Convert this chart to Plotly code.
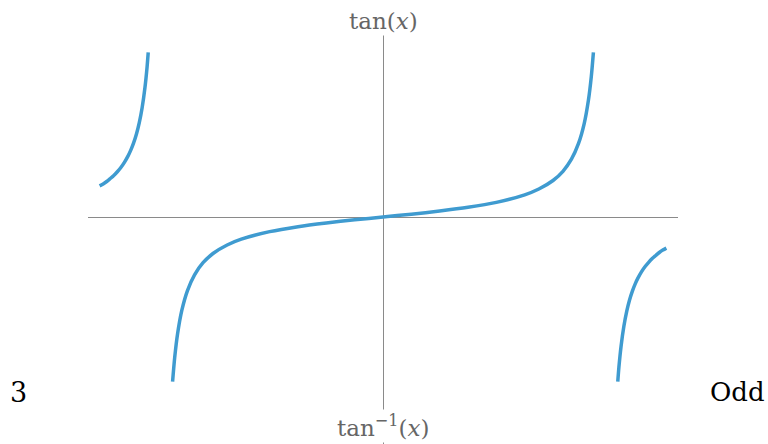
import plotly.graph_objects as go

# Readings of the tan(x) curve (x in radians), three branches
left_x = [-2.0, -1.975, -1.95, -1.925, -1.9, -1.875, -1.85, -1.825, -1.8, -1.78, -1.76, -1.74, -1.72, -1.70, -1.68, -1.665, -1.657]
left_y = [2.19, 2.33, 2.50, 2.71, 2.93, 3.19, 3.49, 3.85, 4.29, 4.71, 5.22, 5.85, 6.65, 7.70, 9.12, 10.58, 11.6]

mid_x = [-1.485, -1.47, -1.45, -1.42, -1.38, -1.33, -1.27, -1.2, -1.1, -1.0, -0.8, -0.6, -0.4, -0.2, 0.0,
         0.2, 0.4, 0.6, 0.8, 1.0, 1.1, 1.2, 1.27, 1.33, 1.38, 1.42, 1.45, 1.47, 1.485]
mid_y = [-11.6, -9.89, -8.24, -6.58, -5.18, -4.07, -3.22, -2.57, -1.97, -1.56, -1.03, -0.68, -0.42, -0.20, 0.0,
         0.20, 0.42, 0.68, 1.03, 1.56, 1.97, 2.57, 3.22, 4.07, 5.18, 6.58, 8.24, 9.89, 11.6]

right_x = [1.657, 1.665, 1.68, 1.70, 1.72, 1.74, 1.76, 1.78, 1.8, 1.825, 1.85, 1.875, 1.9, 1.925, 1.95, 1.975, 2.0]
right_y = [-11.6, -10.58, -9.12, -7.70, -6.65, -5.85, -5.22, -4.71, -4.29, -3.85, -3.49, -3.19, -2.93, -2.71, -2.50, -2.33, -2.19]

top_label = "tan(<i>x</i>)"
bottom_label = "tan<sup>−1</sup>(<i>x</i>)"
corner_left = "3"
corner_right = "Odd"

color = "#3f9bd0"
fig = go.Figure()
for xs, ys in [(left_x, left_y), (mid_x, mid_y), (right_x, right_y)]:
    fig.add_trace(go.Scatter(x=xs, y=ys, mode="lines",
                             line=dict(color=color, width=3.5, shape="spline", smoothing=0.8),
                             showlegend=False, hoverinfo="skip"))

fig.update_layout(
    width=768, height=444,
    margin=dict(l=88, r=90, t=35, b=0),
    paper_bgcolor="white", plot_bgcolor="white",
    xaxis=dict(range=[-2.082, 2.082], showgrid=False, showticklabels=False, ticks="",
               zeroline=True, zerolinecolor="#8a8a8a", zerolinewidth=1.2, showline=False, fixedrange=True),
    yaxis=dict(range=[-15.99, 12.82], showgrid=False, showticklabels=False, ticks="",
               zeroline=True, zerolinecolor="#8a8a8a", zerolinewidth=1.2, showline=False, fixedrange=True),
    font=dict(family="DejaVu Serif"),
    annotations=[
        dict(text=top_label, x=383, y=21, xref="paper", yref="paper", showarrow=False,
             font=dict(size=23, color="#666666", family="DejaVu Serif"), bgcolor="white"),
        dict(text=bottom_label, x=383, y=426, xref="paper", yref="paper", showarrow=False,
             font=dict(size=23, color="#666666", family="DejaVu Serif"), bgcolor="white"),
        dict(text=corner_left, x=18, y=392, xref="paper", yref="paper", showarrow=False,
             font=dict(size=27, color="black", family="DejaVu Serif")),
        dict(text=corner_right, x=737, y=392, xref="paper", yref="paper", showarrow=False,
             font=dict(size=26, color="black", family="DejaVu Serif")),
    ],
)

# convert pixel-based annotation positions to paper coordinates
pw = 768 - 88 - 90
ph = 444 - 35 - 0
for a in fig.layout.annotations:
    px, py = a.x, a.y
    a.x = (px - 88) / pw
    a.y = (444 - py) / ph
    a.xanchor = "center"
    a.yanchor = "middle"

fig.write_html("out.html", config={"displayModeBar": False},
               post_script="document.body.style.margin='0';document.body.style.overflow='hidden';")
